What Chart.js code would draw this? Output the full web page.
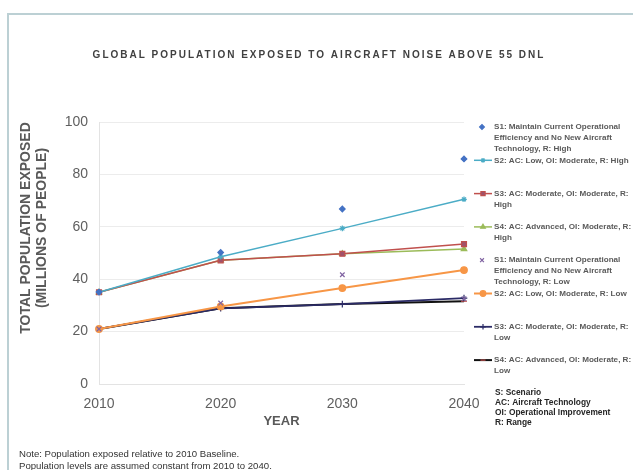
<!DOCTYPE html>
<html>
<head>
<meta charset="utf-8">
<script src="https://cdn.jsdelivr.net/npm/chart.js@4.4.1/dist/chart.umd.min.js"></script>
<style>
  html, body { margin: 0; padding: 0; background: #fff; }
  #wrap { position: relative; width: 633px; height: 470px; overflow: hidden; }
  #frame { position: absolute; left: 7px; top: 13px; width: 640px; height: 480px;
           border-left: 2px solid #bcd0d4; border-top: 2px solid #bcd0d4; }
  #myChart { position: absolute; left: 0; top: 0; }
</style>
</head>
<body>
<div id="wrap">
  <div id="frame"></div>
  <canvas id="myChart" width="633" height="470"></canvas>
</div>
<script>
// data
var years = ['2010', '2020', '2030', '2040'];

var s1High = [35.1, 50.2, 66.8, 85.9];
var s2High = [35.0, 48.6, 59.4, 70.5];
var s3High = [35.0, 47.2, 49.7, 53.4];
var s4High = [35.0, 47.2, 49.7, 51.5];
var s1Low  = [21.0, 30.9, 41.7, 32.6];
var s2Low  = [21.0, 29.6, 36.6, 43.5];
var s3Low  = [21.0, 28.9, 30.5, 32.8];
var s4Low  = [21.0, 28.9, 30.5, 31.6];

var legendLabels = [
    ['S1: Maintain Current Operational', 'Efficiency and No New Aircraft', 'Technology, R: High'],
    ['S2: AC: Low, OI: Moderate, R: High'],
    ['S3: AC: Moderate, OI: Moderate, R:', 'High'],
    ['S4: AC: Advanced, OI: Moderate, R:', 'High'],
    ['S1: Maintain Current Operational', 'Efficiency and No New Aircraft', 'Technology, R: Low'],
    ['S2: AC: Low, OI: Moderate, R: Low'],
    ['S3: AC: Moderate, OI: Moderate, R:', 'Low'],
    ['S4: AC: Advanced, OI: Moderate, R:', 'Low']
];

var keyLines = ['S: Scenario', 'AC: Aircraft Technology', 'OI: Operational Improvement', 'R: Range'];
var noteLines = ['Note: Population exposed relative to 2010 Baseline.',
                 'Population levels are assumed constant from 2010 to 2040.'];

function series(data, color, pointColor, style, radius, width, showLine) {
    return {
        data: data,
        borderColor: color,
        backgroundColor: pointColor,
        pointBackgroundColor: pointColor,
        pointBorderColor: pointColor,
        pointStyle: style,
        pointRadius: radius,
        pointBorderWidth: 1.2,
        borderWidth: width,
        showLine: showLine,
        tension: 0,
        clip: false
    };
}

var datasets = [
    series(s1High, '#4472c4', '#4472c4', 'rectRot', 2.8, 1.5, false),
    series(s2High, '#4bacc6', '#4bacc6', 'star', 2.8, 1.5, true),
    series(s3High, '#c0504d', '#c0504d', 'rect', 3.5, 1.5, true),
    series(s4High, '#9bbb59', '#9bbb59', 'triangle', 3.2, 1.5, true),
    series(s1Low, '#8064a2', '#8064a2', 'crossRot', 3.2, 1.5, false),
    series(s2Low, '#f79646', '#f79646', 'circle', 3.3, 2, true),
    series(s3Low, '#2b2b66', '#2b2b66', 'cross', 3.3, 1.8, true),
    series(s4Low, '#111111', '#c0504d', 'line', 3, 2, true)
];
datasets[2].pointBackgroundColor = '#a0526a';

var annotations = {
    id: 'annotations',
    afterDraw: function (chart) {
        var ctx = chart.ctx;
        var area = chart.chartArea;
        ctx.save();

        // title
        ctx.fillStyle = '#404040';
        ctx.font = 'bold 10px "Liberation Sans", Arial, sans-serif';
        ctx.letterSpacing = '2px';
        ctx.textAlign = 'center';
        ctx.textBaseline = 'middle';
        ctx.fillText('GLOBAL POPULATION EXPOSED TO AIRCRAFT NOISE ABOVE 55 DNL', 319, 55);
        ctx.letterSpacing = '0px';

        // y axis title
        ctx.fillStyle = '#595959';
        ctx.font = 'bold 14px "Liberation Sans", Arial, sans-serif';
        ctx.save();
        ctx.translate(26, 228);
        ctx.rotate(-Math.PI / 2);
        ctx.fillText('TOTAL POPULATION EXPOSED', 0, 0);
        ctx.fillText('(MILLIONS OF PEOPLE)', 0, 16);
        ctx.restore();

        // x axis title
        ctx.font = 'bold 13px "Liberation Sans", Arial, sans-serif';
        ctx.fillText('YEAR', (area.left + area.right) / 2, 421);

        // legend
        ctx.font = 'bold 8.1px "Liberation Sans", Arial, sans-serif';
        ctx.textAlign = 'left';
        chart.data.datasets.forEach(function (ds, i) {
            var y = 127 + i * 33.3;
            if (ds.showLine) {
                ctx.strokeStyle = ds.borderColor;
                ctx.lineWidth = ds.borderWidth;
                ctx.beginPath();
                ctx.moveTo(474, y);
                ctx.lineTo(492, y);
                ctx.stroke();
            }
            ctx.fillStyle = ds.pointBackgroundColor;
            ctx.strokeStyle = ds.pointBorderColor;
            ctx.lineWidth = ds.pointBorderWidth;
            Chart.helpers.drawPoint(ctx, {
                pointStyle: ds.pointStyle,
                radius: ds.pointRadius * 0.85,
                rotation: 0,
                borderWidth: ds.pointBorderWidth
            }, ds.showLine ? 483 : 482, y);
            ctx.fillStyle = '#5a5a5a';
            legendLabels[i].forEach(function (line, j) {
                ctx.fillText(line, 494, y + j * 10.7, 139);
            });
        });

        // key
        ctx.fillStyle = '#262626';
        ctx.font = 'bold 8.4px "Liberation Sans", Arial, sans-serif';
        keyLines.forEach(function (line, j) {
            ctx.fillText(line, 495, 393 + j * 10);
        });

        // note
        ctx.fillStyle = '#333333';
        ctx.font = '9.6px "Liberation Sans", Arial, sans-serif';
        noteLines.forEach(function (line, j) {
            ctx.fillText(line, 19, 454 + j * 12);
        });
        ctx.restore();
    }
};

var ctx = document.getElementById('myChart');
var myChart = new Chart(ctx, {
    type: 'line',
    data: {
        labels: years,
        datasets: datasets
    },
    options: {
        responsive: false,
        animation: false,
        events: [],
        layout: {
            padding: { left: 0, top: 122, right: 169, bottom: 0 }
        },
        plugins: {
            legend: { display: false },
            title: { display: false },
            tooltip: { enabled: false }
        },
        scales: {
            x: {
                type: 'category',
                offset: false,
                grid: { display: false },
                border: { display: true, color: '#e3e3e3', width: 1 },
                ticks: {
                    color: '#5f5f5f',
                    font: { family: '"Liberation Sans", Arial, sans-serif', size: 14 },
                    padding: 4,
                    maxRotation: 0
                },
                afterFit: function (scale) { scale.height = 86; }
            },
            y: {
                min: 0,
                max: 100,
                grid: { color: '#ececec', drawTicks: false },
                border: { display: true, color: '#e3e3e3', width: 1 },
                ticks: {
                    stepSize: 20,
                    color: '#5f5f5f',
                    font: { family: '"Liberation Sans", Arial, sans-serif', size: 14 },
                    padding: 11
                },
                afterFit: function (scale) { scale.width = 99; }
            }
        }
    },
    plugins: [annotations]
});
</script>
</body>
</html>
